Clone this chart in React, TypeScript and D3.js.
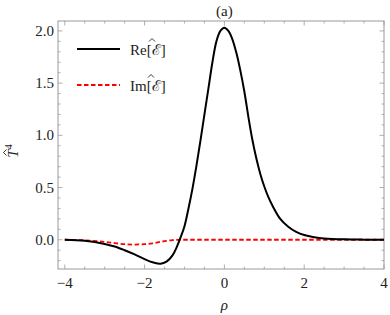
import React from 'react';
import * as d3 from 'd3';

const rho = [-4, -3.5, -3, -2.75, -2.5, -2.25, -2, -1.8, -1.6, -1.45, -1.3, -1.2, -1.1, -1, -0.9, -0.8, -0.7, -0.6, -0.5, -0.4, -0.3, -0.2, -0.1, 0, 0.1, 0.2, 0.3, 0.4, 0.5, 0.6, 0.7, 0.8, 0.9, 1, 1.1, 1.2, 1.4, 1.6, 1.8, 2, 2.25, 2.5, 3, 3.5, 4];
const reE = [0, -0.01, -0.04, -0.065, -0.1, -0.14, -0.185, -0.215, -0.23, -0.21, -0.15, -0.075, 0.02, 0.13, 0.3, 0.49, 0.71, 0.95, 1.2, 1.45, 1.7, 1.9, 2.0, 2.03, 2.0, 1.92, 1.79, 1.62, 1.42, 1.18, 0.96, 0.78, 0.63, 0.51, 0.41, 0.33, 0.2, 0.125, 0.075, 0.045, 0.025, 0.013, 0.004, 0.001, 0];
const imE = [0, -0.005, -0.02, -0.032, -0.042, -0.046, -0.042, -0.034, -0.02, -0.01, -0.003, -0.001, 0, 0, 0, 0, 0, 0, 0, 0, 0, 0, 0, 0, 0, 0, 0, 0, 0, 0, 0, 0, 0, 0, 0, 0, 0, 0, 0, 0, 0, 0, 0, 0, 0];

const xMajor = [-4, -2, 0, 2, 4];
const xMinor = d3.range(-4, 4.01, 0.5);
const yMajor = [0, 0.5, 1, 1.5, 2];
const yMinor = d3.range(-0.2, 2.05, 0.1);

const W = 390, H = 315;
const FONT = '"Liberation Serif", "Times New Roman", "DejaVu Serif", serif';

// small circumflex accent drawn as a path, centred at (cx, cy)
const hat = (cx: number, cy: number) => `M${cx - 3},${cy + 1.5}L${cx},${cy - 1.5}L${cx + 3},${cy + 1.5}`;

export default function App() {
  const x = d3.scaleLinear().domain([-4.17, 4.0]).range([58, 384]);
  const y = d3.scaleLinear().domain([-0.28, 2.095]).range([269, 21]);
  const [x0, x1] = x.range();
  const [y0, y1] = y.range();

  const line = d3.line<number>().x((_, i) => x(rho[i])).y(d => y(d)).curve(d3.curveCatmullRom.alpha(0.5));
  const fmtY = (d: number) => d.toFixed(1);
  const fmtX = (d: number) => (d < 0 ? '\u2212' + Math.abs(d) : String(d));
  const frame = '#9a9a9a';
  const txt = { fontSize: 15, fill: '#222' };

  return (
    <svg width={W} height={H} style={{ position: 'absolute', left: 0, top: 0, background: '#fff', fontFamily: FONT }}>
      {/* frame */}
      <rect x={x0} y={y1} width={x1 - x0} height={y0 - y1} fill="none" stroke={frame} strokeWidth={1} />
      {/* x ticks bottom & top */}
      {xMinor.map(t => {
        const maj = xMajor.some(m => Math.abs(m - t) < 1e-6);
        const len = maj ? 4.5 : 2.5;
        return (
          <g key={'xt' + t} stroke={frame} strokeWidth={0.8}>
            <line x1={x(t)} x2={x(t)} y1={y0} y2={y0 - len} />
            <line x1={x(t)} x2={x(t)} y1={y1} y2={y1 + len} />
          </g>
        );
      })}
      {yMinor.map(t => {
        const maj = yMajor.some(m => Math.abs(m - t) < 1e-6);
        const len = maj ? 4.5 : 2.5;
        return (
          <g key={'yt' + t.toFixed(2)} stroke={frame} strokeWidth={0.8}>
            <line x1={x0} x2={x0 + len} y1={y(t)} y2={y(t)} />
            <line x1={x1} x2={x1 - len} y1={y(t)} y2={y(t)} />
          </g>
        );
      })}
      {/* tick labels */}
      {xMajor.map(t => (
        <text key={'xl' + t} x={x(t)} y={y0 + 19} textAnchor="middle" {...txt}>{fmtX(t)}</text>
      ))}
      {yMajor.map(t => (
        <text key={'yl' + t} x={x0 - 4} y={y(t) + 5} textAnchor="end" {...txt}>{fmtY(t)}</text>
      ))}
      {/* curves */}
      <path d={line(imE) || ''} fill="none" stroke="#ff0000" strokeWidth={1.8} strokeDasharray="4.5,2.5" />
      <path d={line(reE) || ''} fill="none" stroke="#000" strokeWidth={2} />
      {/* legend */}
      <line x1={77} x2={120} y1={49} y2={49} stroke="#000" strokeWidth={2} />
      <text x={130} y={55} {...txt}>Re[ℰ]</text>
      <path d={hat(152, 40)} fill="none" stroke="#222" strokeWidth={0.9} />
      <line x1={77} x2={120} y1={85} y2={85} stroke="#ff0000" strokeWidth={1.8} strokeDasharray="4.5,2.5" />
      <text x={130} y={91} {...txt}>Im[ℰ]</text>
      <path d={hat(151, 76)} fill="none" stroke="#222" strokeWidth={0.9} />
      {/* titles */}
      <text x={x(0)} y={16} textAnchor="middle" {...txt}>(a)</text>
      <text x={x(0)} y={310} textAnchor="middle" fontStyle="italic" {...txt}>ρ</text>
      <g transform={`translate(18,${(y0 + y1) / 2 + 6}) rotate(-90)`}>
        <text x={0} y={0} textAnchor="middle" fontStyle="italic" {...txt}>T<tspan dy={-6} fontSize={10} fontStyle="normal">4</tspan></text>
        <path d={hat(-1.5, -13)} fill="none" stroke="#222" strokeWidth={0.9} />
      </g>
    </svg>
  );
}
